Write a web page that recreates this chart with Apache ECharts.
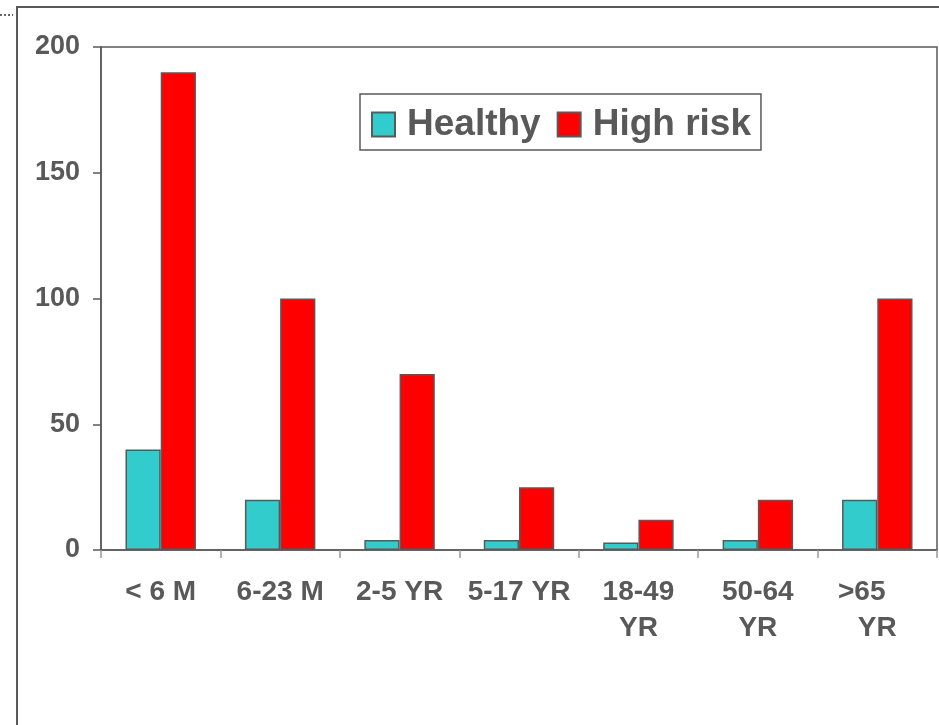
<!DOCTYPE html>
<html>
<head>
<meta charset="utf-8">
<script src="https://cdn.jsdelivr.net/npm/echarts@6/dist/echarts.min.js"></script>
<style>
html,body{margin:0;padding:0;background:#fff;}
#chart{width:939px;height:725px;}
</style>
</head>
<body>
<div id="chart"></div>
<script>
var categories = ['< 6 M', '6-23 M', '2-5 YR', '5-17 YR', '18-49\nYR', '50-64\nYR', '>65    \nYR'];
var healthy = [40, 20, 4, 4, 3, 4, 20];
var highRisk = [190, 100, 70, 25, 12, 20, 100];
var yTicks = [0, 50, 100, 150, 200];

var FONT = '"Liberation Sans", Arial, sans-serif';
var TXT = '#595959';

var chart = echarts.init(document.getElementById('chart'));
chart.setOption({
  animation: false,
  backgroundColor: '#ffffff',
  grid: {
    left: 101, right: 2, top: 47, bottom: 175,
    show: true, borderColor: '#595959', borderWidth: 1.5, backgroundColor: 'transparent'
  },
  legend: {
    left: 360, top: 94,
    orient: 'horizontal',
    borderColor: '#595959', borderWidth: 1.5,
    padding: [12, 10, 7, 11],
    itemWidth: 23, itemHeight: 24, itemGap: 16,
    icon: 'rect',
    textStyle: { fontFamily: FONT, fontWeight: 'bold', fontSize: 37, color: TXT, padding: [0, 0, 0, 7] },
    data: ['Healthy', 'High risk']
  },
  xAxis: {
    type: 'category',
    data: categories,
    axisLine: { lineStyle: { color: '#595959', width: 1.5 } },
    axisTick: { show: true, length: 8, lineStyle: { color: '#999999', width: 1.5 } },
    axisLabel: {
      interval: 0, margin: 24,
      fontFamily: FONT, fontWeight: 'bold', fontSize: 28, color: TXT, lineHeight: 36
    },
    splitLine: { show: false }
  },
  yAxis: {
    type: 'value',
    min: yTicks[0], max: yTicks[yTicks.length - 1], interval: 50,
    axisLine: { show: true, lineStyle: { color: '#595959', width: 1.5 } },
    axisTick: { show: true, length: 8, lineStyle: { color: '#595959', width: 1.5 } },
    axisLabel: { margin: 21, fontFamily: FONT, fontWeight: 'bold', fontSize: 27, color: TXT },
    splitLine: { show: false }
  },
  series: [
    {
      name: 'Healthy', type: 'bar', data: healthy,
      barGap: '0%', barCategoryGap: '41%',
      itemStyle: { color: '#33CCCC', borderColor: '#595959', borderWidth: 1.5 }
    },
    {
      name: 'High risk', type: 'bar', data: highRisk,
      barGap: '0%', barCategoryGap: '41%',
      itemStyle: { color: '#FF0000', borderColor: '#595959', borderWidth: 1.5 }
    }
  ],
  graphic: [
    { type: 'rect', shape: { x: 17, y: 7, width: 940, height: 740 }, style: { fill: 'none', stroke: '#595959', lineWidth: 2 }, silent: true },
    { type: 'line', shape: { x1: 0, y1: 15, x2: 13, y2: 15 }, style: { stroke: '#666666', lineWidth: 2, lineDash: [2, 2] }, silent: true }
  ]
});
</script>
</body>
</html>
